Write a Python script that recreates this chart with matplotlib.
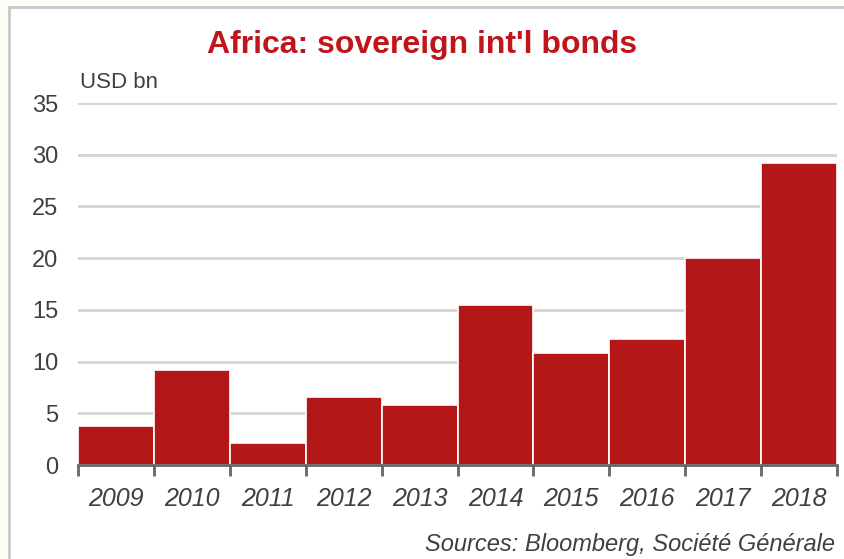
import matplotlib
matplotlib.use("Agg")
import matplotlib.pyplot as plt
from matplotlib.patches import Rectangle

years = ["2009", "2010", "2011", "2012", "2013", "2014", "2015", "2016", "2017", "2018"]
bonds_usd_bn = [3.8, 9.2, 2.1, 6.6, 5.8, 15.5, 10.8, 12.2, 20.0, 29.2]
y_ticks = [0, 5, 10, 15, 20, 25, 30, 35]

BAR_RED = "#B31717"
TITLE_RED = "#C0161B"
TEXT_GRAY = "#404040"
FONT = ["Liberation Sans", "DejaVu Sans"]

plt.rcParams["font.family"] = FONT

fig = plt.figure(figsize=(8.44, 5.59), dpi=100)
fig.patch.set_facecolor("#FDFDF8")

# white panel with light gray border, running off the right/bottom edges
panel = Rectangle((9 / 844, -0.01), 1.0, 1 - 7 / 559 + 0.01, transform=fig.transFigure,
                  facecolor="white", edgecolor="#C8C8C8", linewidth=2, zorder=-5)
fig.patches.append(panel)

ax = fig.add_axes([78 / 844, 1 - 465 / 559, (837 - 78) / 844, (465 - 103) / 559])
ax.set_facecolor("none")
ax.set_zorder(2)

x = list(range(len(years)))
ax.bar(x, bonds_usd_bn, width=1.0, color=BAR_RED, edgecolor="white", linewidth=1.2, zorder=3)

ax.set_xlim(-0.5, len(years) - 0.5)
ax.set_ylim(0, 35)
ax.set_yticks(y_ticks)
ax.set_yticklabels([str(t) for t in y_ticks], fontsize=17, color=TEXT_GRAY)
ax.grid(axis="y", color="#D4D4D4", linewidth=2, zorder=0)
ax.tick_params(axis="y", length=0, pad=14)

# ticks at bar boundaries, labels centred under bars
ax.set_xticks([i - 0.5 for i in range(len(years) + 1)])
ax.set_xticklabels([])
ax.set_xticks(x, minor=True)
ax.set_xticklabels(years, minor=True, fontsize=18, style="italic", color=TEXT_GRAY)
ax.tick_params(axis="x", which="major", length=8, width=2, color="#666666", direction="out")
ax.tick_params(axis="x", which="minor", length=0, pad=16)

for side in ["top", "right", "left"]:
    ax.spines[side].set_visible(False)
ax.spines["bottom"].set_color("#666666")
ax.spines["bottom"].set_linewidth(2)
ax.spines["bottom"].set_zorder(4)

fig.text(0.5, 1 - 45 / 559, "Africa: sovereign int'l bonds", ha="center", va="center",
         fontsize=23, fontweight="bold", color=TITLE_RED)
fig.text(80 / 844, 1 - 82 / 559, "USD bn", ha="left", va="center", fontsize=16,
         color=TEXT_GRAY)
fig.text(835 / 844, 1 - 544 / 559, "Sources: Bloomberg, Soci\u00e9t\u00e9 G\u00e9n\u00e9rale",
         ha="right", va="center", fontsize=17, style="italic", color=TEXT_GRAY)

fig.savefig("out.png", dpi=100, facecolor=fig.get_facecolor())
